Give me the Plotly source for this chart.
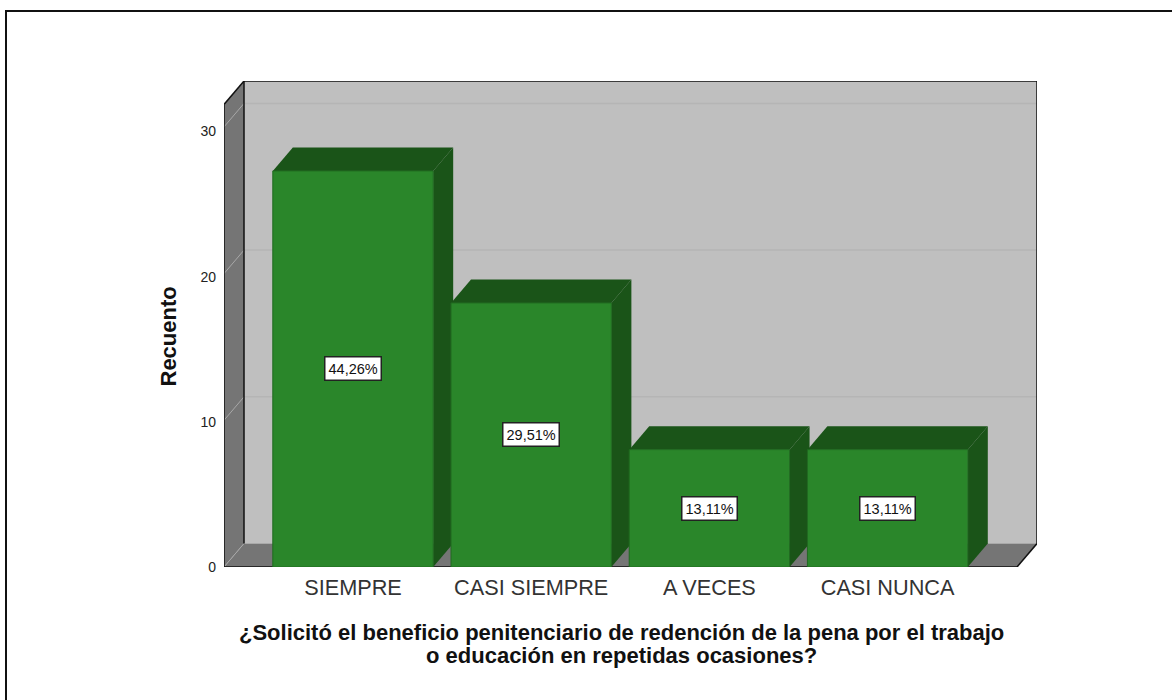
import plotly.graph_objects as go

# ---- data ----
categories = ["SIEMPRE", "CASI SIEMPRE", "A VECES", "CASI NUNCA"]
counts = [27, 18, 8, 8]
percent_labels = ["44,26%", "29,51%", "13,11%", "13,11%"]
y_ticks = [0, 10, 20, 30]
x_title_lines = ["¿Solicitó el beneficio penitenciario de redención de la pena por el trabajo",
                 "o educación en repetidas ocasiones?"]
y_title = "Recuento"

# ---- layout constants ----
W, H = 1172, 700
L, R, T, B = 224, 1037, 81, 567          # plot box in pixels
PX_PER_COUNT = 14.67
PX_PER_CAT = 178.2
CENTER0 = 353.0
BAR_W = 0.9
DX = 20 / PX_PER_CAT                     # 3D depth in axis units
DY = 23.5 / PX_PER_COUNT
X0 = (L - CENTER0) / PX_PER_CAT
X1 = (R - CENTER0) / PX_PER_CAT
Y1 = (B - T) / PX_PER_COUNT
XF = X1 - DX                             # right end of the front floor edge
LABEL_SCALE, LABEL_DROP = 0.993, 0.07    # tick labels sit slightly below their gridline ends

WALL = "#bfbfbf"
DARK_WALL = "#757575"
GRID_BACK = "#b5b5b5"
GRID_SIDE = "#a8a8a8"
FRONT = "#2a862a"
SHADE = "#1a5418"
EDGE = "#206a20"
LINE = "#111111"
FONT = "Liberation Sans, Arial, sans-serif"


def poly(pts, fill, line=None, width=1, layer="below"):
    path = "M " + " L ".join(f"{x},{y}" for x, y in pts) + " Z"
    return dict(type="path", path=path, xref="x", yref="y", fillcolor=fill, layer=layer,
                line=dict(color=line or fill, width=width if line else 0))


def seg(x0, y0, x1, y1, color=LINE, width=1.5, layer="below"):
    return dict(type="line", xref="x", yref="y", x0=x0, y0=y0, x1=x1, y1=y1, layer=layer,
                line=dict(color=color, width=width))


shapes = []
# walls
shapes.append(poly([(X0 + DX, DY), (X1, DY), (X1, Y1), (X0 + DX, Y1)], WALL))
shapes.append(poly([(X0, 0), (X0 + DX, DY), (X0 + DX, Y1), (X0, Y1 - DY)], DARK_WALL))
shapes.append(poly([(X0, 0), (X0 + DX, DY), (X1, DY), (XF, 0)], DARK_WALL))
# grid on back wall and left wall
for t in y_ticks:
    if t:
        shapes.append(seg(X0 + DX, t + DY, X1, t + DY, GRID_BACK, 1.5))
    shapes.append(seg(X0, t, X0 + DX, t + DY, GRID_SIDE, 1))
# box outline
shapes.append(seg(X0 + DX, DY, X0 + DX, Y1))
shapes.append(seg(X0 + DX, Y1, X1, Y1))
shapes.append(seg(X1, Y1, X1, DY))
shapes.append(seg(X1, DY, XF, 0))
shapes.append(seg(XF, 0, X0, 0))
shapes.append(seg(X0, 0, X0, Y1 - DY))
shapes.append(seg(X0, Y1 - DY, X0 + DX, Y1))
# 3D faces of each bar
for i, v in enumerate(counts):
    a, b = i - BAR_W / 2, i + BAR_W / 2
    shapes.append(poly([(a, v), (a + DX, v + DY), (b + DX, v + DY), (b, v)], SHADE))
    shapes.append(poly([(b, 0), (b + DX, DY), (b + DX, v + DY), (b, v)], SHADE))
# page frame (runs off the right and bottom of the picture)
shapes.append(dict(type="path", xref="paper", yref="paper", layer="above",
                   path=f"M {(6 - L) / (R - L)},{(B - H - 5) / (B - T)} L {(6 - L) / (R - L)},{(B - 11) / (B - T)} "
                        f"L {(W + 5 - L) / (R - L)},{(B - 11) / (B - T)}",
                   line=dict(color="#111111", width=2)))

annotations = []
for i, (v, txt) in enumerate(zip(counts, percent_labels)):
    annotations.append(dict(x=i, y=v / 2, xref="x", yref="y", text=txt, showarrow=False,
                            font=dict(family=FONT, size=14.5, color="#111111"),
                            bgcolor="white", bordercolor="#222222", borderwidth=1.5, borderpad=3))
for line, ypx in zip(x_title_lines, [632.5, 655.5]):
    annotations.append(dict(x=(621 - L) / (R - L), y=(B - ypx) / (B - T), xref="paper", yref="paper",
                            text=f"<b>{line}</b>", showarrow=False, xanchor="center", yanchor="middle",
                            font=dict(family=FONT, size=22, color="#111111")))
annotations.append(dict(x=(167.5 - L) / (R - L), y=(B - 337) / (B - T), xref="paper", yref="paper",
                        text=f"<b>{y_title}</b>", showarrow=False, textangle=-90,
                        xanchor="center", yanchor="middle",
                        font=dict(family=FONT, size=22, color="#111111")))

fig = go.Figure(go.Bar(x=list(range(len(categories))), y=counts, width=BAR_W,
                       marker=dict(color=FRONT, line=dict(color=EDGE, width=1)),
                       hoverinfo="skip"))
fig.update_layout(
    width=W, height=H, autosize=False,
    margin=dict(l=L, r=W - R, t=T, b=H - B, pad=0),
    paper_bgcolor="white", plot_bgcolor="rgba(0,0,0,0)",
    showlegend=False, shapes=shapes, annotations=annotations,
    font=dict(family=FONT, color="#222222"),
    xaxis=dict(range=[X0, X1], tickmode="array", tickvals=list(range(len(categories))),
               ticktext=categories, showgrid=False, zeroline=False, showline=False,
               ticks="", ticklabelstandoff=5, tickfont=dict(size=21.7, color="#333333", family=FONT)),
    yaxis=dict(range=[0, Y1], tickmode="array",
               tickvals=[max(0, t * LABEL_SCALE - LABEL_DROP) for t in y_ticks],
               ticktext=[str(t) for t in y_ticks], showgrid=False, zeroline=False,
               showline=False, ticks="", ticklabelstandoff=7,
               tickfont=dict(size=14, color="#222222", family=FONT)),
)
fig.write_html("out.html", post_script="document.body.style.margin='0';document.body.style.overflow='hidden';",
               config=dict(displayModeBar=False))
